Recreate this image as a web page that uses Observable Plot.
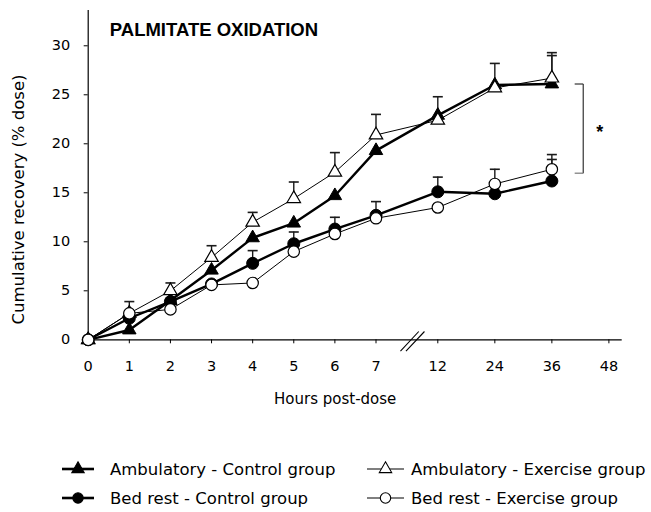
<!DOCTYPE html>
<html><head><meta charset="utf-8">
<script src="https://cdn.jsdelivr.net/npm/d3@7"></script>
<script src="https://cdn.jsdelivr.net/npm/@observablehq/plot@0.6"></script>
<style>
html,body{margin:0;padding:0;background:#fff;}
#wrap{position:relative;width:651px;height:512px;overflow:hidden;font-family:"DejaVu Sans",sans-serif;}
#legend{position:absolute;left:0;top:420px;}
</style></head><body><div id="wrap"><div id="chart"></div><svg id="legend" width="651" height="92"></svg></div>
<script>
// ---- data ----
const hours = [0, 1, 2, 3, 4, 5, 6, 7, 12, 24, 36];
const xTicks = [0, 1, 2, 3, 4, 5, 6, 7, 12, 24, 36, 48];
const yTicks = [0, 5, 10, 15, 20, 25, 30];
const seriesNames = ["Ambulatory - Control group", "Ambulatory - Exercise group", "Bed rest - Control group", "Bed rest - Exercise group"];
const ambCtrl = [0, 1.0, 4.0, 7.1, 10.4, 11.9, 14.7, 19.3, 22.9, 26.0, 26.1];
const ambEx   = [0, 2.7, 5.0, 8.4, 12.0, 14.4, 17.1, 20.9, 22.4, 25.7, 26.7];
const bedCtrl = [0, 2.2, 3.9, 5.7, 7.8, 9.8, 11.3, 12.7, 15.1, 14.9, 16.2];
const bedEx   = [0, 2.7, 3.1, 5.6, 5.8, 9.0, 10.8, 12.4, 13.5, 15.9, 17.4];
// upper standard errors (null where no bar is drawn)
const ambCtrlErr = [null, null, null, null, null, null, null, null, 1.9, null, 2.9];
const ambExErr   = [null, null, 0.8, 1.2, 1.0, 1.7, 2.0, 2.1, null, 2.5, 2.6];
const bedCtrlErr = [null, null, null, null, 1.3, 1.2, 1.2, 1.4, 1.5, null, 2.2];
const bedExErr   = [null, 1.2, null, null, null, null, null, null, null, 1.5, 1.5];
const axisBreak = [9.95];               // hour position of the "//" break on the x axis
const bracket = [{x1: 40.8, x2: 42.6, top: 26.1, bottom: 17.0}];
const asterisk = [{x: 46.1, y: 21.45, text: "*"}];
const title = "PALMITATE OXIDATION";
const xLabel = "Hours post-dose";
const yLabel = "Cumulative recovery (% dose)";

const values = [ambCtrl, ambEx, bedCtrl, bedEx];
const errs = [ambCtrlErr, ambExErr, bedCtrlErr, bedExErr];
const symbols = ["triangle", "triangle", "circle", "circle"];
const filled = [true, false, true, false];

const rows = [];
seriesNames.forEach((name, s) => hours.forEach((h, i) => rows.push({
  series: name, s, hour: h, value: values[s][i], err: errs[s][i],
  top: errs[s][i] == null ? null : values[s][i] + errs[s][i]
})));
const errRows = rows.filter(d => d.err != null);
const pick = s => rows.filter(d => d.s === s);

const capSymbol = {draw(ctx) { ctx.moveTo(-5, 0); ctx.lineTo(5, 0); }};
const breakSymbol = {draw(ctx) {
  ctx.moveTo(-12, 11.4); ctx.lineTo(6.3, -8.3);
  ctx.moveTo(-6.5, 11.4); ctx.lineTo(12, -8.3);
}};

const ff = "DejaVu Sans";
const chart = Plot.plot({
  width: 651, height: 420,
  marginLeft: 87.7, marginRight: 29.3, marginTop: 10, marginBottom: 80.7,
  style: {fontFamily: ff, fontSize: "14.5px", color: "black", background: "white"},
  x: {type: "linear", domain: [0, 7, 12, 50.8], range: [87.7, 375.5, 437.3, 621.7],
      ticks: xTicks, tickSize: 4, tickPadding: 17, label: null, tickFormat: d => String(d)},
  y: {domain: [0, 33.6], ticks: yTicks, tickSize: 4, tickPadding: 14, label: null},
  marks: [
    Plot.ruleY([0], {stroke: "black", strokeWidth: 1.2}),
    Plot.ruleX([0], {stroke: "black", strokeWidth: 1.2}),
    Plot.dot(axisBreak, {x: d => d, y: () => 0, symbol: breakSymbol, stroke: "black", strokeWidth: 1.1, fill: "none"}),
    Plot.ruleX(errRows, {x: "hour", y1: "value", y2: "top", stroke: "#1a1a1a", strokeWidth: 1.4}),
    Plot.dot(errRows, {x: "hour", y: "top", symbol: capSymbol, stroke: "#1a1a1a", strokeWidth: 1.6, fill: "none"}),
    Plot.line(rows.filter(d => !filled[d.s]), {x: "hour", y: "value", z: "series", stroke: "black", strokeWidth: 1}),
    Plot.line(rows.filter(d => filled[d.s]), {x: "hour", y: "value", z: "series", stroke: "black", strokeWidth: 2.4}),
    Plot.dot(pick(0), {x: "hour", y: "value", symbol: "triangle", r: 5, fill: "black", stroke: "black", strokeWidth: 1}),
    Plot.dot(pick(1), {x: "hour", y: "value", symbol: "triangle", r: 5, fill: "white", stroke: "black", strokeWidth: 1.2}),
    Plot.dot(pick(2), {x: "hour", y: "value", symbol: "circle", r: 6, fill: "black", stroke: "black", strokeWidth: 1}),
    Plot.dot(pick(3), {x: "hour", y: "value", symbol: "circle", r: 5.7, fill: "white", stroke: "black", strokeWidth: 1.2}),
    Plot.link(bracket, {x1: "x2", x2: "x2", y1: "top", y2: "bottom", stroke: "#333", strokeWidth: 1.2}),
    Plot.link(bracket, {x1: "x1", x2: "x2", y1: "top", y2: "top", stroke: "#333", strokeWidth: 1.2}),
    Plot.link(bracket, {x1: "x1", x2: "x2", y1: "bottom", y2: "bottom", stroke: "#777", strokeWidth: 1.2}),
    Plot.text(asterisk, {x: "x", y: "y", text: "text", fontSize: 18, fontWeight: "bold", fontFamily: "Liberation Sans", dy: 3}),
    Plot.text([title], {frameAnchor: "top-left", dx: 21.6, dy: 12.7, textAnchor: "start", lineAnchor: "top",
      fontFamily: "Liberation Sans", fontWeight: "bold", fontSize: 18.5}),
    Plot.text([yLabel], {frameAnchor: "left", rotate: -90, dx: -69.4, dy: 24.3, textAnchor: "middle", lineAnchor: "middle", fontSize: 16.5}),
    Plot.text([xLabel], {frameAnchor: "bottom", dx: -20, dy: 59, textAnchor: "middle", lineAnchor: "middle", fontSize: 15})
  ]
});
document.getElementById("chart").appendChild(chart);

// ---- legend ----
const leg = d3.select("#legend");
const colSample = [[62, 94], [367, 404]];
const colText = [110, 411];
const rowY = [49, 78];
seriesNames.forEach((name, i) => {
  const c = i % 2, r = Math.floor(i / 2);
  const y = rowY[r];
  const [a, b] = colSample[c];
  leg.append("line").attr("x1", a).attr("x2", b).attr("y1", y).attr("y2", y)
    .attr("stroke", "black").attr("stroke-width", filled[i] ? 2.6 : 1.1);
  const type = symbols[i] === "circle" ? d3.symbolCircle : d3.symbolTriangle;
  const size = symbols[i] === "circle" ? Math.PI * 5.2 * 5.2 : Math.PI * 4.6 * 4.6;
  leg.append("path").attr("d", d3.symbol(type, size)())
    .attr("transform", `translate(${(a + b) / 2},${y})`)
    .attr("fill", filled[i] ? "black" : "white").attr("stroke", "black").attr("stroke-width", 1.1);
  leg.append("text").attr("x", colText[c]).attr("y", y + 5.5)
    .attr("font-family", ff).attr("font-size", 16.5).attr("fill", "black").text(name);
});
</script></body></html>
